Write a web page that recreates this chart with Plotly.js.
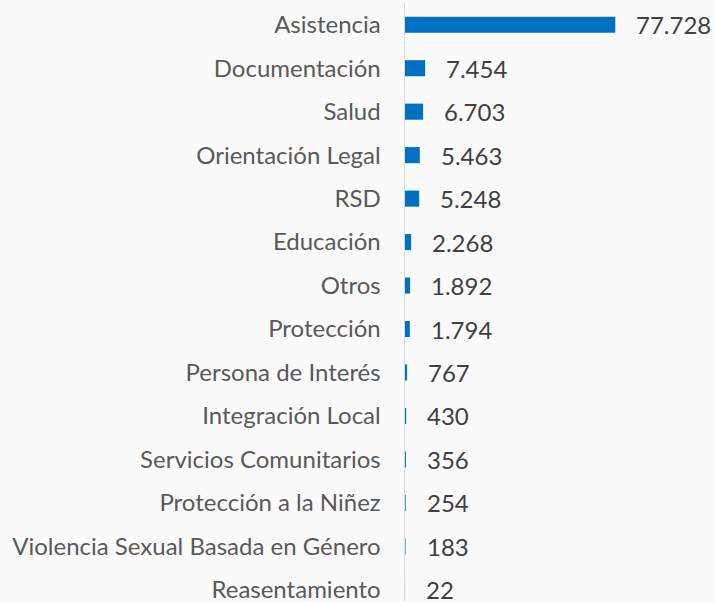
<!DOCTYPE html>
<html>
<head>
<meta charset="utf-8">
<script src="https://cdn.plot.ly/plotly-3.0.1.min.js"></script>
<style>html,body{margin:0;padding:0;background:#fafafa;}#chart{width:715px;height:602px;}</style>
</head>
<body>
<div id="chart"></div>
<script>
const categories = ["Asistencia","Documentación","Salud","Orientación Legal","RSD","Educación","Otros","Protección","Persona de Interés","Integración Local","Servicios Comunitarios","Protección a la Niñez","Violencia Sexual Basada en Género","Reasentamiento"];
const values = [77728,7454,6703,5463,5248,2268,1892,1794,767,430,356,254,183,22];

function fmt(v){ return String(v).replace(/\B(?=(\d{3})+(?!\d))/g, "."); }

const trace = {
  type: 'bar', orientation: 'h',
  x: values, y: categories,
  marker: {color: '#0070c0'},
  hoverinfo: 'none'
};

const annotations = values.map((v,i)=>({
  x: v, y: categories[i], xref:'x', yref:'y',
  text: fmt(v), showarrow:false, xanchor:'left', yanchor:'middle',
  xshift: 19, font:{family:'Lato', size:24, color:'#404040'}
}));

const layout = {
  width: 715, height: 602,
  margin: {l:405, r:0, t:3, b:0},
  paper_bgcolor: '#fafafa', plot_bgcolor: '#fafafa',
  bargap: 0.63,
  showlegend: false,
  xaxis: {range:[0,114580], showgrid:false, zeroline:false, showticklabels:false, showline:false, fixedrange:true},
  yaxis: {type:'category', autorange:false, range:[13.28,-0.5], showgrid:false, zeroline:false,
          showline:true, linecolor:'#d9d9d9', linewidth:1.5, ticks:'', ticklabelstandoff:18,
          tickfont:{family:'Lato', size:24, color:'#595959'}, fixedrange:true},
  annotations: annotations
};

Plotly.newPlot('chart', [trace], layout, {displayModeBar:false, staticPlot:true});
</script>
</body>
</html>
